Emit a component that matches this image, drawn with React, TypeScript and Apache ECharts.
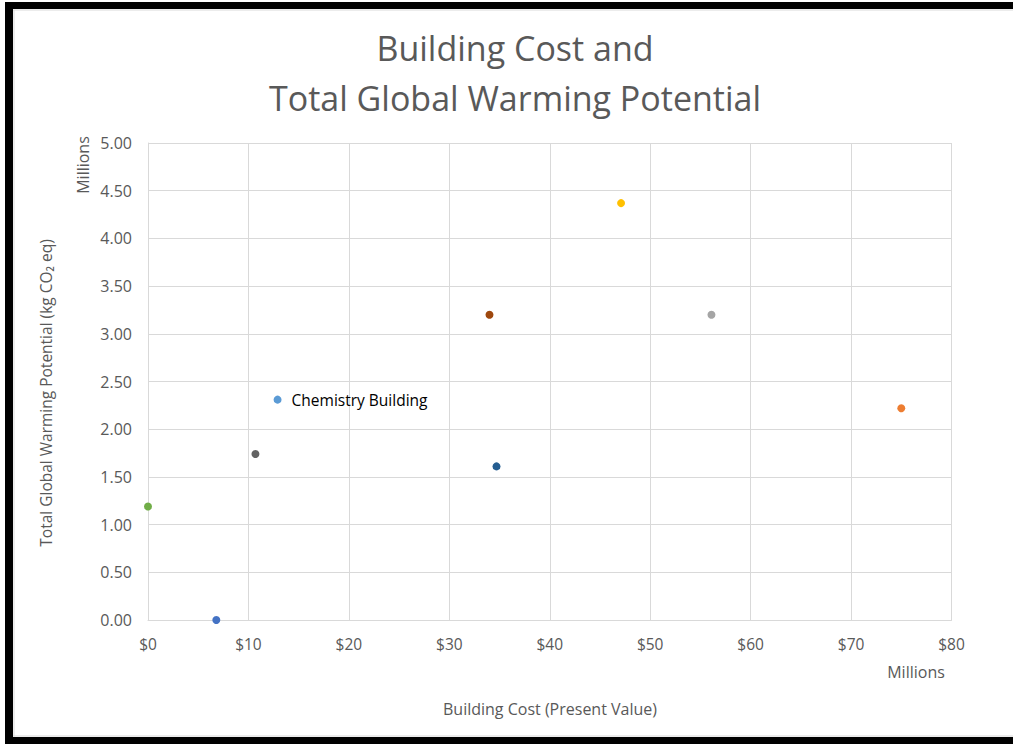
import React, { useEffect, useRef } from "react";
import * as echarts from "echarts";

const buildingNames = [
  "Building A",
  "Building B",
  "Building C",
  "Building D",
  "Chemistry Building",
  "Building F",
  "Building G",
  "Building H",
  "Building I",
];
const costMillions = [6.8, 75.0, 56.1, 47.1, 12.9, 0.0, 34.7, 34.0, 10.7];
const gwpMillions = [0.0, 2.22, 3.2, 4.37, 2.31, 1.19, 1.61, 3.2, 1.74];
const pointColors = [
  "#4472C4",
  "#ED7D31",
  "#A5A5A5",
  "#FFC000",
  "#5B9BD5",
  "#70AD47",
  "#255E91",
  "#9E480E",
  "#636363",
];
const labelledPoint = "Chemistry Building";
const titleLines = ["Building Cost and", "Total Global Warming Potential"];
const xTitle = "Building Cost (Present Value)";
const yTitle = "Total Global Warming Potential (kg CO₂ eq)";
const unitLabel = "Millions";

const FONT = "'Open Sans', 'Noto Sans', sans-serif";
const GREY = "#595959";

export default function App() {
  const ref = useRef<HTMLDivElement>(null);
  useEffect(() => {
    if (!ref.current) return;
    const chart = echarts.init(ref.current, undefined, { renderer: "svg" });
    const series = buildingNames.map((name, i) => ({
      type: "scatter",
      name,
      symbolSize: 8,
      itemStyle: { color: pointColors[i], opacity: 1 },
      label: {
        show: name === labelledPoint,
        position: "right",
        distance: 10,
        formatter: name,
        color: "#000",
        fontSize: 15.5,
        fontFamily: FONT,
      },
      data: [[costMillions[i], gwpMillions[i]]],
    }));
    chart.setOption({
      animation: false,
      backgroundColor: "#fff",
      grid: { left: 148, right: 61.5, top: 143, bottom: 124, containLabel: false },
      xAxis: {
        type: "value",
        min: 0,
        max: 80,
        interval: 10,
        axisLine: { show: true, lineStyle: { color: "#D9D9D9" } },
        axisTick: { show: false },
        splitLine: { show: true, lineStyle: { color: "#D9D9D9" } },
        axisLabel: {
          formatter: (v: number) => "$" + v,
          color: GREY,
          fontSize: 15.5,
          fontFamily: FONT,
          margin: 16,
        },
      },
      yAxis: {
        type: "value",
        min: 0,
        max: 5,
        interval: 0.5,
        axisLine: { show: true, lineStyle: { color: "#D9D9D9" } },
        axisTick: { show: false },
        splitLine: { show: true, lineStyle: { color: "#D9D9D9" } },
        axisLabel: {
          formatter: (v: number) => v.toFixed(2),
          color: GREY,
          fontSize: 16,
          fontFamily: FONT,
          margin: 16,
        },
      },
      graphic: [
        {
          type: "text",
          x: 515,
          y: 48,
          style: {
            text: titleLines[0],
            fill: GREY,
            font: `34px ${FONT}`,
            align: "center",
            verticalAlign: "middle",
          },
        },
        {
          type: "text",
          x: 515,
          y: 98,
          style: {
            text: titleLines[1],
            fill: GREY,
            font: `34px ${FONT}`,
            align: "center",
            verticalAlign: "middle",
          },
        },
        {
          type: "text",
          x: 550,
          y: 709,
          style: {
            text: xTitle,
            fill: GREY,
            font: `16px ${FONT}`,
            align: "center",
            verticalAlign: "middle",
          },
        },
        {
          type: "text",
          x: 916,
          y: 672,
          style: {
            text: unitLabel,
            fill: GREY,
            font: `16px ${FONT}`,
            align: "center",
            verticalAlign: "middle",
          },
        },
        {
          type: "text",
          x: 83,
          y: 165,
          rotation: Math.PI / 2,
          style: {
            text: unitLabel,
            fill: GREY,
            font: `16px ${FONT}`,
            align: "center",
            verticalAlign: "middle",
          },
        },
        {
          type: "text",
          x: 46,
          y: 393,
          rotation: Math.PI / 2,
          style: {
            text: yTitle,
            fill: GREY,
            font: `15.5px ${FONT}`,
            align: "center",
            verticalAlign: "middle",
          },
        },
        { type: "rect", shape: { x: 5, y: 2, width: 1008, height: 7 }, style: { fill: "#000" } },
        { type: "rect", shape: { x: 5, y: 2, width: 8, height: 742 }, style: { fill: "#000" } },
        { type: "rect", shape: { x: 5, y: 737, width: 1008, height: 7 }, style: { fill: "#000" } },
        { type: "line", shape: { x1: 13, y1: 10, x2: 1013, y2: 10 }, style: { stroke: "#D9D9D9", lineWidth: 1 } },
        { type: "line", shape: { x1: 14, y1: 10, x2: 14, y2: 737 }, style: { stroke: "#D9D9D9", lineWidth: 1 } },
        { type: "line", shape: { x1: 13, y1: 736, x2: 1013, y2: 736 }, style: { stroke: "#D9D9D9", lineWidth: 1 } },
      ],
      series,
    });
    return () => chart.dispose();
  }, []);
  return (
    <div
      ref={ref}
      style={{ position: "fixed", left: 0, top: 0, width: 1013, height: 744 }}
    />
  );
}
